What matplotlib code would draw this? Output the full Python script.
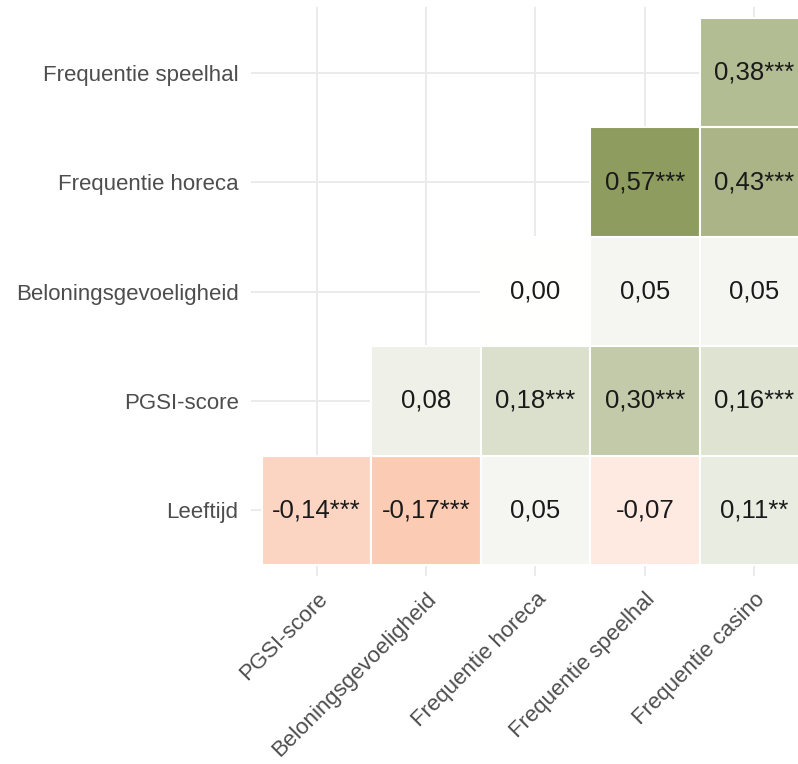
import numpy as np
import matplotlib
matplotlib.use("Agg")
import matplotlib.pyplot as plt
from matplotlib.colors import LinearSegmentedColormap, Normalize

plt.rcParams['font.family'] = ['Liberation Sans', 'DejaVu Sans']

# columns (x) and rows (y, bottom to top)
x_labels = ['PGSI-score', 'Beloningsgevoeligheid', 'Frequentie horeca',
            'Frequentie speelhal', 'Frequentie casino']
y_labels = ['Leeftijd', 'PGSI-score', 'Beloningsgevoeligheid',
            'Frequentie horeca', 'Frequentie speelhal']

# correlations, one row per y label (nan = empty cell)
r_leeftijd = [-0.14, -0.17, 0.05, -0.07, 0.11]
r_pgsi = [np.nan, 0.08, 0.18, 0.30, 0.16]
r_beloning = [np.nan, np.nan, 0.00, 0.05, 0.05]
r_horeca = [np.nan, np.nan, np.nan, 0.57, 0.43]
r_speelhal = [np.nan, np.nan, np.nan, np.nan, 0.38]

# significance stars
s_leeftijd = ['***', '***', '', '', '**']
s_pgsi = ['', '', '***', '***', '***']
s_beloning = ['', '', '', '', '']
s_horeca = ['', '', '', '***', '***']
s_speelhal = ['', '', '', '', '***']

R = np.array([r_leeftijd, r_pgsi, r_beloning, r_horeca, r_speelhal])
S = [s_leeftijd, s_pgsi, s_beloning, s_horeca, s_speelhal]

# colour scale: salmon - white - olive
nodes = [-0.6, -0.2, 0.0, 0.6]
cols = ['#E8825A', '#FBC2A7', '#FFFFFF', '#889757']
vmin, vmax = -0.6, 0.6
cmap = LinearSegmentedColormap.from_list(
    'corr', [((v - vmin) / (vmax - vmin), c) for v, c in zip(nodes, cols)])
norm = Normalize(vmin, vmax)

fig = plt.figure(figsize=(7.98, 7.64), dpi=100)
W, H = 798, 764
px = 109.4  # pixels per cell
left, bottom_px = 251, 576
ax = fig.add_axes([left / W, (H - bottom_px) / H, 5.2 * px / W, 5.2 * px / H])

n = len(x_labels)
xpos = np.arange(1, n + 1)
for i in range(n):
    row = R[i]
    ok = ~np.isnan(row)
    ax.bar(xpos[ok], 1.0, width=1.0, bottom=i + 0.5,
           color=cmap(norm(row[ok])), edgecolor='white', linewidth=1.5,
           zorder=2)
    for j in np.where(ok)[0]:
        txt = f"{row[j]:.2f}".replace('.', ',') + S[i][j]
        ax.text(j + 1, i + 1, txt, ha='center', va='center',
                fontsize=18.5, color='#1A1A1A', zorder=3)

ax.set_xlim(0.4, 5.6)
ax.set_ylim(0.4, 5.6)
ax.set_xticks(xpos)
ax.set_yticks(np.arange(1, n + 1))
ax.set_xticklabels(x_labels, rotation=45, ha='right', va='top',
                   rotation_mode='anchor')
ax.set_yticklabels(y_labels)
ax.tick_params(axis='both', length=0, labelsize=16, labelcolor='#4D4D4D')
ax.tick_params(axis='y', pad=9)
ax.tick_params(axis='x', pad=9)
ax.grid(True, color='#EBEBEB', linewidth=1.4, zorder=0)
ax.set_axisbelow(True)
for sp in ax.spines.values():
    sp.set_visible(False)

fig.savefig('out.png', dpi=100, facecolor='white')
